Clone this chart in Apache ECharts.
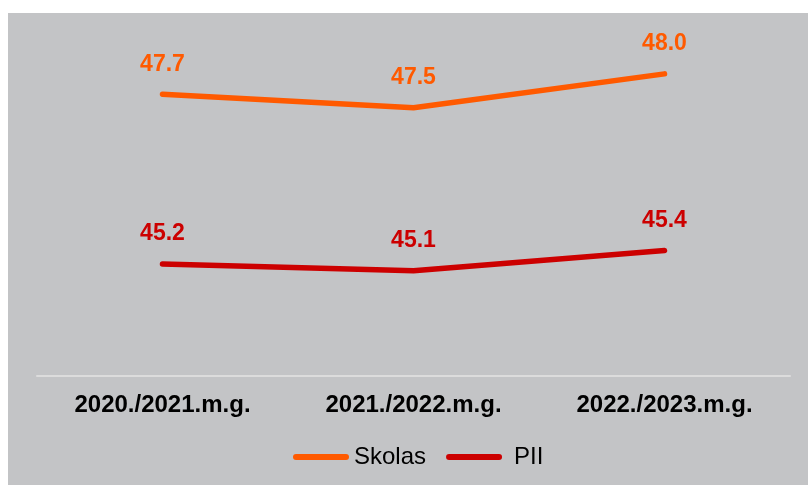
<!DOCTYPE html>
<html><head><meta charset="utf-8">
<script src="https://cdn.jsdelivr.net/npm/echarts@6/dist/echarts.min.js"></script>
<style>html,body{margin:0;padding:0;background:#fff}#c{width:808px;height:485px}</style>
</head><body><div id="c"></div>
<script>
var categories = ['2020./2021.m.g.', '2021./2022.m.g.', '2022./2023.m.g.'];
var skolas = [47.7, 47.5, 48.0];
var pii = [45.2, 45.1, 45.4];
var seriesNames = ['Skolas', 'PII'];
var colors = ['#ff5a00', '#cc0000'];
var FONT = '"Liberation Sans", Arial, sans-serif';
var capsule = 'path://M3,0 L53,0 A3,3 0 0 1 53,6 L3,6 A3,3 0 0 1 3,0 Z';

var chart = echarts.init(document.getElementById('c'), null, {renderer: 'canvas'});
function mk(name, data, color) {
  return {
    name: name, type: 'line', data: data,
    symbol: 'circle', symbolSize: 1, showSymbol: true,
    itemStyle: {color: color},
    lineStyle: {color: color, width: 5.5, cap: 'round', join: 'round'},
    label: {show: true, position: 'top', distance: 18, color: color,
      fontFamily: FONT, fontWeight: 'bold', fontSize: 23,
      formatter: function (p) { return p.value.toFixed(1); }},
    emphasis: {disabled: true}, animation: false
  };
}
chart.setOption({
  backgroundColor: '#ffffff',
  animation: false,
  graphic: [{type: 'rect', z: -10, silent: true, shape: {x: 8, y: 13, width: 800, height: 472}, style: {fill: '#c3c4c6'}}],
  grid: {left: 37, right: 18, top: 6, bottom: 109, containLabel: false},
  xAxis: {type: 'category', data: categories, boundaryGap: true,
    axisLine: {show: true, lineStyle: {color: '#dcdcdc', width: 2}},
    axisTick: {show: false},
    axisLabel: {color: '#000', fontFamily: FONT, fontWeight: 'bold', fontSize: 24, margin: 17}},
  yAxis: {type: 'value', min: 43.55, max: 49, show: false, splitLine: {show: false}},
  legend: {data: [{name: seriesNames[0], icon: capsule},
                  {name: seriesNames[1], icon: capsule, textStyle: {padding: [0, 0, 0, 7]}}],
    bottom: 11, left: 288, itemWidth: 56, itemHeight: 6, itemGap: 20,
    textStyle: {color: '#000', fontFamily: FONT, fontSize: 24}},
  series: [mk(seriesNames[0], skolas, colors[0]), mk(seriesNames[1], pii, colors[1])]
});
</script></body></html>
